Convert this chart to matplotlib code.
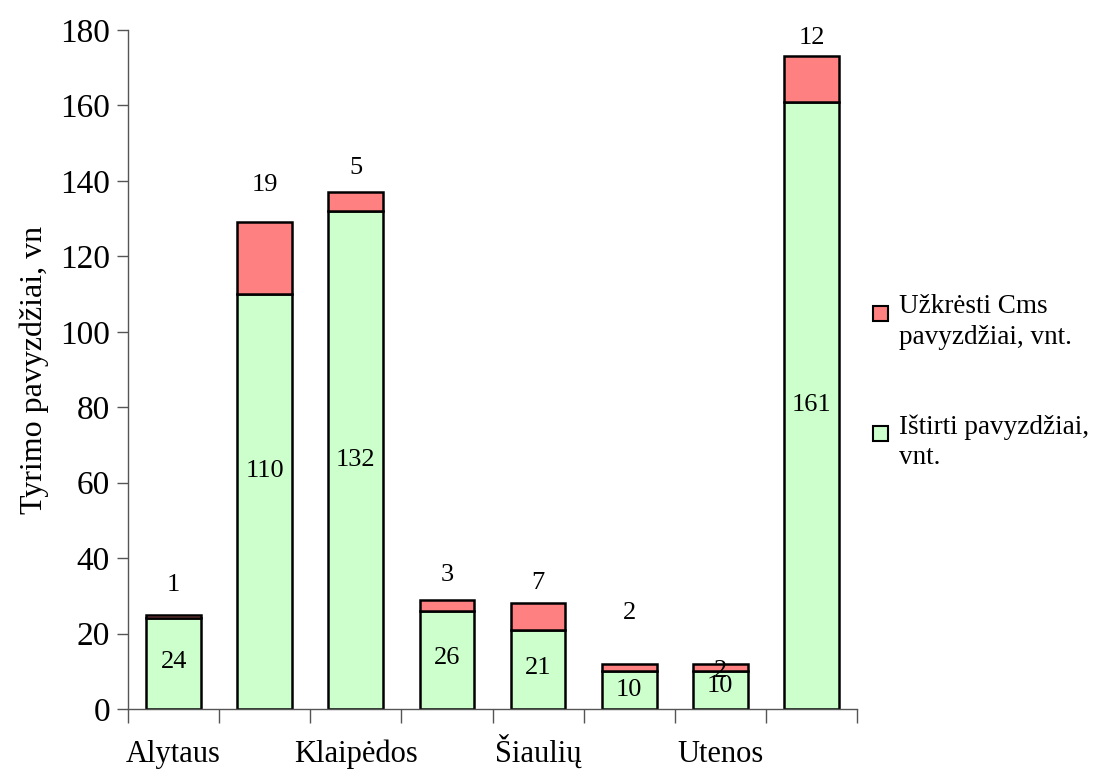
import matplotlib.pyplot as plt
import numpy as np
from matplotlib.patches import Rectangle

plt.rcParams['font.family'] = ['Liberation Serif', 'DejaVu Serif']

# Data
regions = ['Alytaus', 'Kauno', 'Klaipėdos', 'Panevėžio', 'Šiaulių', 'Telšių', 'Utenos', 'Vilniaus']
tested = [24, 110, 132, 26, 21, 10, 10, 161]
infected = [1, 19, 5, 3, 7, 2, 2, 12]

# label placement tweaks (value units), to mimic the original layout
infected_label_offset = [8, 10, 6.5, 6.5, 5.5, 13.5, -1, 5]
tested_label_offset = [0.5, 8, 0, 0.5, 0.5, 0, 1, 0]

red = '#FF8080'
green = '#CCFFCC'

fig = plt.figure(figsize=(11.03, 7.72), dpi=100)
ax = fig.add_axes([128 / 1103, 1 - 709 / 772, (857 - 128) / 1103, (709 - 30) / 772])

x = np.arange(len(regions))
ax.bar(x, tested, width=0.6, color=green, edgecolor='black', linewidth=1.8, zorder=2)
ax.bar(x, infected, width=0.6, bottom=tested, color=red, edgecolor='black', linewidth=1.8, zorder=2)

# value labels
for i in range(len(regions)):
    ax.text(x[i], tested[i] / 2 + tested_label_offset[i], str(tested[i]),
            ha='center', va='center', fontsize=19)
    off = infected_label_offset[i]
    if off > 0:
        ylab = tested[i] + infected[i] + off
    else:
        ylab = tested[i] + infected[i] / 2 + off
    ax.text(x[i], ylab, str(infected[i]), ha='center', va='center', fontsize=19)

# axes styling
ax.set_xlim(-0.5, len(regions) - 0.5)
ax.set_ylim(0, 180)
ax.set_yticks(np.arange(0, 181, 20))
ax.tick_params(axis='y', labelsize=24, length=8, width=1, color='#555555', pad=5)
ax.set_xticks(np.arange(-0.5, len(regions), 1))
ax.set_xticklabels([])
ax.tick_params(axis='x', which='major', length=10, width=1, color='#555555')
ax.set_xticks(x[::2], minor=True)
ax.set_xticklabels(regions[::2], minor=True, fontsize=22, va='baseline')
ax.tick_params(axis='x', which='minor', length=0, pad=38)

for s in ['top', 'right']:
    ax.spines[s].set_visible(False)
for s in ['left', 'bottom']:
    ax.spines[s].set_color('#555555')
    ax.spines[s].set_linewidth(1)

ax.set_ylabel('Tyrimo pavyzdžiai, vn', fontsize=23, labelpad=8)

# legend drawn by hand so the markers sit on the first text line
legend_items = [(red, 'Užkrėsti Cms\npavyzdžiai, vnt.', 313),
                (green, 'Ištirti pavyzdžiai,\nvnt.', 433)]
for color, label, ypx in legend_items:
    fig.patches.append(Rectangle((873 / 1103, 1 - (ypx + 8) / 772), 15 / 1103, 15 / 772,
                                 transform=fig.transFigure, facecolor=color,
                                 edgecolor='black', linewidth=1.5))
    fig.text(899 / 1103, 1 - (ypx - 19) / 772, label, fontsize=19.5, va='top',
             ha='left', linespacing=1.3)

fig.savefig('out.png', dpi=100)
